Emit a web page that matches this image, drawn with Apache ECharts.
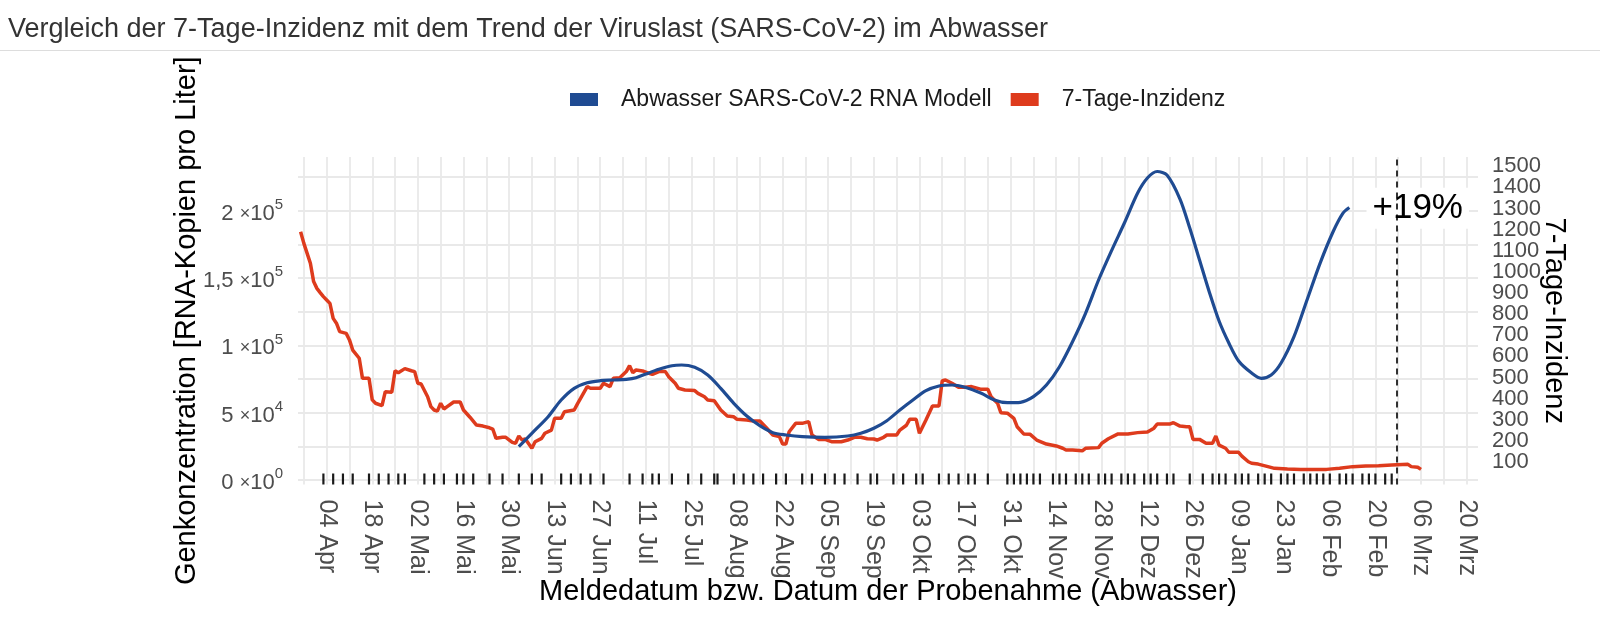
<!DOCTYPE html>
<html><head><meta charset="utf-8">
<script src="https://cdn.jsdelivr.net/npm/echarts@6/dist/echarts.min.js"></script>
<style>html,body{margin:0;padding:0;background:#fff}#c{width:1600px;height:625px}</style>
</head><body><div id="c"></div>
<script>
const titleText = 'Vergleich der 7-Tage-Inzidenz mit dem Trend der Viruslast (SARS-CoV-2) im Abwasser';
const seriesNames = ['Abwasser SARS-CoV-2 RNA Modell', '7-Tage-Inzidenz'];
const xAxisTitle = 'Meldedatum bzw. Datum der Probenahme (Abwasser)';
const leftAxisTitle = 'Genkonzentration [RNA-Kopien pro Liter]';
const rightAxisTitle = '7-Tage-Inzidenz';

const incidenceDates = ['2022-03-27','2022-03-28','2022-03-30','2022-03-31','2022-04-01','2022-04-02','2022-04-03','2022-04-04','2022-04-05','2022-04-06','2022-04-07','2022-04-08','2022-04-10','2022-04-11','2022-04-12','2022-04-14','2022-04-15','2022-04-17','2022-04-18','2022-04-19','2022-04-21','2022-04-22','2022-04-24','2022-04-25','2022-04-26','2022-04-28','2022-04-30','2022-05-01','2022-05-02','2022-05-03','2022-05-05','2022-05-06','2022-05-07','2022-05-08','2022-05-09','2022-05-10','2022-05-11','2022-05-13','2022-05-15','2022-05-16','2022-05-18','2022-05-20','2022-05-22','2022-05-24','2022-05-25','2022-05-26','2022-05-28','2022-05-29','2022-05-31','2022-06-01','2022-06-02','2022-06-03','2022-06-04','2022-06-06','2022-06-07','2022-06-09','2022-06-10','2022-06-12','2022-06-13','2022-06-15','2022-06-16','2022-06-19','2022-06-20','2022-06-21','2022-06-23','2022-06-24','2022-06-27','2022-06-28','2022-06-30','2022-07-01','2022-07-03','2022-07-05','2022-07-06','2022-07-07','2022-07-08','2022-07-10','2022-07-12','2022-07-13','2022-07-15','2022-07-17','2022-07-18','2022-07-20','2022-07-21','2022-07-23','2022-07-26','2022-07-27','2022-07-29','2022-07-30','2022-08-01','2022-08-03','2022-08-05','2022-08-07','2022-08-08','2022-08-11','2022-08-13','2022-08-15','2022-08-17','2022-08-19','2022-08-21','2022-08-22','2022-08-23','2022-08-24','2022-08-26','2022-08-28','2022-08-30','2022-08-31','2022-09-02','2022-09-04','2022-09-06','2022-09-09','2022-09-11','2022-09-13','2022-09-15','2022-09-17','2022-09-19','2022-09-20','2022-09-22','2022-09-23','2022-09-26','2022-09-27','2022-09-29','2022-09-30','2022-10-02','2022-10-03','2022-10-05','2022-10-07','2022-10-09','2022-10-10','2022-10-11','2022-10-13','2022-10-15','2022-10-17','2022-10-19','2022-10-22','2022-10-24','2022-10-25','2022-10-27','2022-10-28','2022-10-30','2022-11-01','2022-11-02','2022-11-04','2022-11-06','2022-11-08','2022-11-11','2022-11-14','2022-11-16','2022-11-17','2022-11-19','2022-11-22','2022-11-23','2022-11-27','2022-11-28','2022-11-30','2022-12-03','2022-12-06','2022-12-09','2022-12-12','2022-12-14','2022-12-15','2022-12-17','2022-12-19','2022-12-20','2022-12-22','2022-12-24','2022-12-25','2022-12-26','2022-12-28','2022-12-30','2023-01-01','2023-01-02','2023-01-03','2023-01-05','2023-01-06','2023-01-09','2023-01-10','2023-01-12','2023-01-13','2023-01-15','2023-01-18','2023-01-20','2023-01-24','2023-01-28','2023-02-01','2023-02-05','2023-02-09','2023-02-13','2023-02-17','2023-02-21','2023-02-25','2023-03-02','2023-03-03','2023-03-05','2023-03-06'];
const incidenceValues = [1190,1135,1041,954,922,902,883,867,851,780,757,717,709,678,630,591,496,496,394,378,367,433,430,532,523,542,532,528,473,469,409,362,346,341,378,351,362,384,384,346,312,275,270,262,256,212,217,217,193,189,223,204,209,165,196,212,236,251,307,307,338,346,375,402,457,449,449,473,457,496,499,528,556,523,536,531,520,515,528,528,504,473,449,441,438,425,409,394,390,346,318,314,302,299,294,294,262,228,220,185,185,243,283,283,291,228,207,207,196,196,204,217,217,210,209,204,217,228,228,251,274,302,302,236,299,365,365,485,488,473,454,454,457,444,444,409,378,333,331,307,267,233,231,204,185,176,165,157,157,153,165,168,189,210,233,233,239,242,260,280,280,280,286,270,267,267,207,207,189,189,223,180,165,146,146,128,101,94,90,78,70,67,65,65,65,70,78,81,82,86,89,78,75,65];

const wastewaterDates = ['2022-06-02','2022-06-06','2022-06-11','2022-06-15','2022-06-19','2022-06-23','2022-06-27','2022-07-01','2022-07-05','2022-07-08','2022-07-11','2022-07-15','2022-07-19','2022-07-22','2022-07-26','2022-07-30','2022-08-03','2022-08-07','2022-08-11','2022-08-15','2022-08-19','2022-08-23','2022-08-28','2022-09-04','2022-09-11','2022-09-15','2022-09-19','2022-09-23','2022-09-27','2022-10-01','2022-10-05','2022-10-09','2022-10-13','2022-10-17','2022-10-22','2022-10-26','2022-10-30','2022-11-03','2022-11-07','2022-11-11','2022-11-15','2022-11-19','2022-11-23','2022-11-27','2022-12-01','2022-12-05','2022-12-09','2022-12-12','2022-12-15','2022-12-18','2022-12-22','2022-12-25','2022-12-28','2022-12-31','2023-01-03','2023-01-06','2023-01-09','2023-01-13','2023-01-16','2023-01-19','2023-01-22','2023-01-26','2023-01-30','2023-02-03','2023-02-07','2023-02-10','2023-02-12'];
const wastewaterValues = [24742,34698,47032,59440,68133,72294,73780,74300,74820,76009,78758,82250,84925,85445,83736,78015,68133,56988,47552,40345,35144,33435,32172,31726,32692,34698,38413,44060,52010,59440,66350,69842,70585,68876,64418,59440,57434,57731,61892,70585,84182,102757,123858,148600,170500,191322,213241,224386,229216,226615,208783,187236,163460,139684,118137,101791,88417,79501,75563,78015,86708,106472,133740,161008,184487,198158,202468];

const sampleDates = ['2022-04-03','2022-04-06','2022-04-09','2022-04-12','2022-04-17','2022-04-20','2022-04-23','2022-04-26','2022-04-28','2022-05-04','2022-05-07','2022-05-10','2022-05-14','2022-05-16','2022-05-19','2022-05-24','2022-05-28','2022-06-02','2022-06-06','2022-06-09','2022-06-15','2022-06-18','2022-06-21','2022-06-24','2022-06-28','2022-07-06','2022-07-10','2022-07-13','2022-07-15','2022-07-19','2022-07-24','2022-07-28','2022-08-01','2022-08-02','2022-08-07','2022-08-10','2022-08-13','2022-08-16','2022-08-20','2022-08-23','2022-08-28','2022-08-31','2022-09-04','2022-09-07','2022-09-10','2022-09-14','2022-09-18','2022-09-20','2022-09-25','2022-09-28','2022-10-02','2022-10-04','2022-10-09','2022-10-12','2022-10-15','2022-10-18','2022-10-20','2022-10-24','2022-10-30','2022-11-01','2022-11-03','2022-11-05','2022-11-07','2022-11-09','2022-11-13','2022-11-15','2022-11-17','2022-11-20','2022-11-22','2022-11-24','2022-11-27','2022-11-29','2022-12-01','2022-12-04','2022-12-06','2022-12-08','2022-12-11','2022-12-13','2022-12-15','2022-12-18','2022-12-20','2022-12-25','2022-12-29','2023-01-01','2023-01-03','2023-01-05','2023-01-08','2023-01-10','2023-01-12','2023-01-15','2023-01-17','2023-01-19','2023-01-22','2023-01-24','2023-01-26','2023-01-29','2023-01-31','2023-02-02','2023-02-04','2023-02-06','2023-02-09','2023-02-11','2023-02-13','2023-02-16','2023-02-18','2023-02-20','2023-02-23','2023-02-25'];

const xTickDates = ['2022-04-04','2022-04-18','2022-05-02','2022-05-16','2022-05-30','2022-06-13','2022-06-27','2022-07-11','2022-07-25','2022-08-08','2022-08-22','2022-09-05','2022-09-19','2022-10-03','2022-10-17','2022-10-31','2022-11-14','2022-11-28','2022-12-12','2022-12-26','2023-01-09','2023-01-23','2023-02-06','2023-02-20','2023-03-06','2023-03-20'];
const xTickLabels = ['04 Apr','18 Apr','02 Mai','16 Mai','30 Mai','13 Jun','27 Jun','11 Jul','25 Jul','08 Aug','22 Aug','05 Sep','19 Sep','03 Okt','17 Okt','31 Okt','14 Nov','28 Nov','12 Dez','26 Dez','09 Jan','23 Jan','06 Feb','20 Feb','06 Mrz','20 Mrz'];
const leftTickValues = [0, 50000, 100000, 150000, 200000];
const leftTickMantissa = ['0', '5', '1', '1,5', '2'];
const leftTickExponent = ['0', '4', '5', '5', '5'];
const rightTickValues = [100,200,300,400,500,600,700,800,900,1000,1100,1200,1300,1400,1500];

const markerDate = '2023-02-26T12:00:00Z';
const changeLabel = '+19%';
const changeLabelAnchor = ['2023-03-05', 202000];

const BLUE = '#1F4B92';
const RED = '#DE3B1D';
const FONT = "'Liberation Sans', Arial, Helvetica, sans-serif";
const DAY = 86400000;
const ts = s => Date.parse(s);

const xMin = ts('2022-04-04') - 8.8 * DAY;
const xMax = ts('2022-04-04') + 353.5 * DAY;
const weekLines = [];
for (let t = ts('2022-03-28'); t <= ts('2023-03-20'); t += 7 * DAY) weekLines.push(t);
const leftGrid = [];
for (let v = 0; v <= 225000; v += 25000) leftGrid.push(v);
const xTickTs = xTickDates.map(ts);
const rightTicksA = rightTickValues.filter((v, i) => i % 2 === 0);
const rightTicksB = rightTickValues.filter((v, i) => i % 2 === 1);
const RMIN = -6.6, RMAX = 1544;

function rightAxis(ticks, withName) {
  return {
    type: 'value', position: 'right', min: RMIN, max: RMAX,
    axisLine: {show: false}, axisTick: {show: false}, splitLine: {show: false},
    axisLabel: {customValues: ticks, margin: 14, fontSize: 22, color: '#4d4d4d', fontFamily: FONT,
                showMinLabel: true, showMaxLabel: true, hideOverlap: false, formatter: v => String(v)},
    name: withName ? rightAxisTitle : '', nameLocation: 'middle', nameRotate: -90, nameGap: 61, nameMoveOverlap: false,
    nameTextStyle: {fontSize: 29, color: '#000', fontFamily: FONT}
  };
}

const chart = echarts.init(document.getElementById('c'), null, {renderer: 'canvas'});
chart.setOption({
  animation: false,
  backgroundColor: '#ffffff',
  textStyle: {fontFamily: FONT},
  title: {
    text: titleText, left: 8, top: 16, padding: 0,
    textStyle: {fontSize: 27, fontWeight: 'normal', color: '#333333', fontFamily: FONT}
  },
  graphic: [{type: 'line', shape: {x1: 0, y1: 50.5, x2: 1600, y2: 50.5}, style: {stroke: '#dddddd', lineWidth: 1}}],
  legend: {
    data: seriesNames, left: 570, top: 88, padding: 0,
    icon: 'rect', itemWidth: 28, itemHeight: 13, itemGap: 19,
    formatter: n => '{g|}' + n,
    textStyle: {fontSize: 23, color: '#1a1a1a', fontFamily: FONT, rich: {g: {width: 18}}}
  },
  grid: {left: 298, right: 122, top: 157, bottom: 140.5, outerBoundsMode: 'none'},
  xAxis: {
    type: 'value', min: xMin, max: xMax,
    axisLine: {show: false, onZero: false},
    axisTick: {show: false, customValues: weekLines},
    splitLine: {show: true, lineStyle: {color: '#e9e9e9', width: 1.8}},
    axisLabel: {
      customValues: xTickTs, rotate: -90, margin: 15, fontSize: 25, color: '#4d4d4d', fontFamily: FONT,
      hideOverlap: false, lineHeight: 26,
      formatter: v => { const i = xTickTs.indexOf(v); return i >= 0 ? xTickLabels[i] : ''; }
    },
    name: xAxisTitle, nameLocation: 'middle', nameGap: 93, nameMoveOverlap: false,
    nameTextStyle: {fontSize: 29, color: '#000', fontFamily: FONT}
  },
  yAxis: [{
    type: 'value', position: 'left', min: -3343, max: 240000,
    axisLine: {show: false}, axisTick: {show: false, customValues: leftGrid},
    splitLine: {show: true, lineStyle: {color: '#e9e9e9', width: 1.8}},
    axisLabel: {
      customValues: leftTickValues, margin: 15, hideOverlap: false,
      formatter: v => { const i = leftTickValues.indexOf(v); return '{n|' + leftTickMantissa[i] + ' }{x|×}{n|10}{e|' + leftTickExponent[i] + '}'; },
      rich: {
        n: {fontSize: 22, color: '#4d4d4d', fontFamily: FONT, padding: [6, 0, 0, 0]},
        x: {fontSize: 18, color: '#4d4d4d', fontFamily: FONT, padding: [6, 0, 0, 0]},
        e: {fontSize: 15, color: '#4d4d4d', fontFamily: FONT, padding: [0, 0, 12, 0]}
      }
    },
    name: leftAxisTitle, nameLocation: 'middle', nameRotate: 90, nameGap: 97, nameMoveOverlap: false,
    nameTextStyle: {fontSize: 29, color: '#000', fontFamily: FONT}
  }, rightAxis(rightTicksA, true), rightAxis(rightTicksB, false)],
  series: [{
    name: seriesNames[0], type: 'line', yAxisIndex: 0, z: 3,
    data: wastewaterDates.map((d, i) => [ts(d), wastewaterValues[i]]),
    smooth: 0.3, showSymbol: false, lineStyle: {width: 3.2, color: BLUE}, itemStyle: {color: BLUE},
    markPoint: {
      z: 4, symbol: 'circle', symbolSize: 1, itemStyle: {color: 'rgba(0,0,0,0)'},
      data: [{coord: [ts(changeLabelAnchor[0]), changeLabelAnchor[1]]}],
      label: {show: true, position: 'inside', formatter: changeLabel, fontSize: 35, color: '#000', fontFamily: FONT,
              backgroundColor: '#ffffff', padding: [3, 6]}
    }
  }, {
    name: seriesNames[1], type: 'line', yAxisIndex: 1, z: 2,
    data: incidenceDates.map((d, i) => [ts(d), incidenceValues[i]]),
    showSymbol: false, lineStyle: {width: 3.5, color: RED}, itemStyle: {color: RED},
    markLine: {
      z: 6, silent: true, symbol: 'none', label: {show: false},
      lineStyle: {color: '#000', type: [6, 5], width: 1.6},
      data: [{xAxis: ts(markerDate)}]
    }
  }, {
    type: 'custom', yAxisIndex: 0, z: 5,
    data: sampleDates.map(d => [ts(d), 0]),
    renderItem: (params, api) => {
      const x = api.coord([api.value(0), 0])[0];
      const cs = params.coordSys;
      const yb = cs.y + cs.height;
      return {type: 'line', shape: {x1: x, y1: yb, x2: x, y2: yb - 11}, style: {stroke: '#1a1a1a', lineWidth: 2.2}};
    }
  }]
});
</script></body></html>
